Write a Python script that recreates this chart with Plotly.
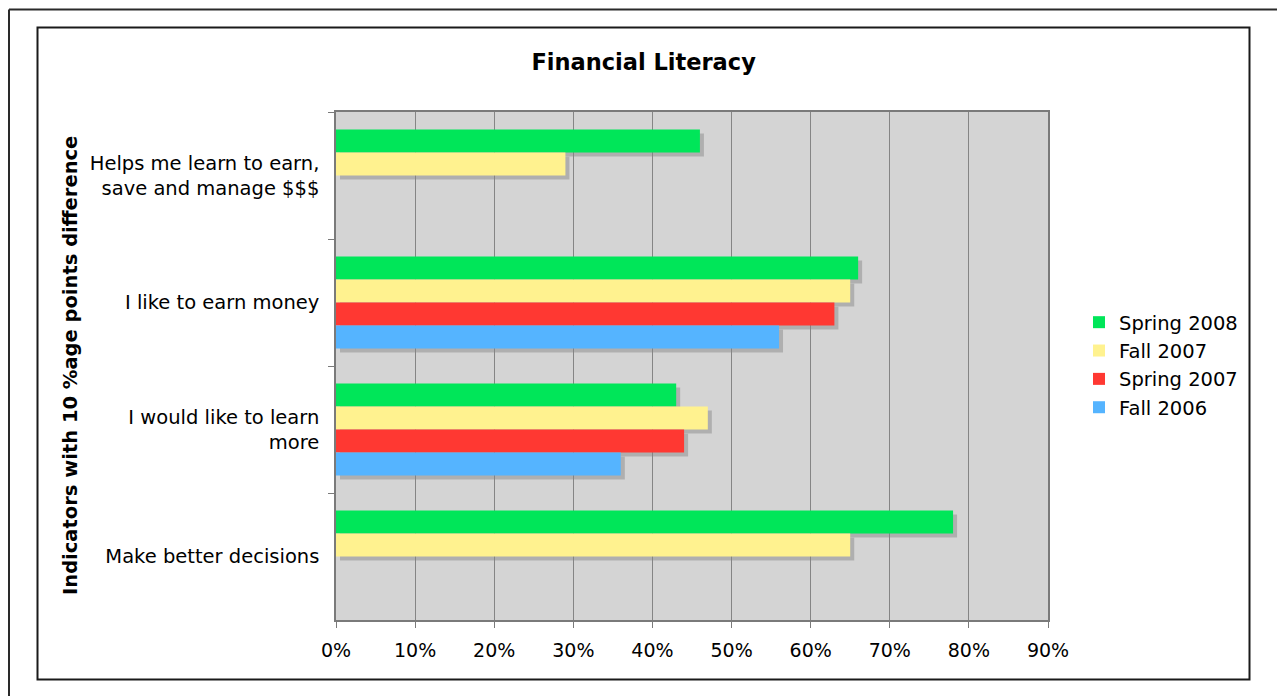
import plotly.graph_objects as go

W, H = 1277, 696

categories = [
    "Helps me learn to earn,<br>save and manage $$$",
    "I like to earn money",
    "I would like to learn<br>more",
    "Make better decisions",
]
series_names = ["Spring 2008", "Fall 2007", "Spring 2007", "Fall 2006"]
spring_2008 = [46, 66, 43, 78]
fall_2007 = [29, 65, 47, 65]
spring_2007 = [None, 63, 44, None]
fall_2006 = [None, 56, 36, None]
x_ticks = [0, 10, 20, 30, 40, 50, 60, 70, 80, 90]
x_tick_labels = ["0%", "10%", "20%", "30%", "40%", "50%", "60%", "70%", "80%", "90%"]

series_values = [spring_2008, fall_2007, spring_2007, fall_2006]
colors = ["#00E659", "#FFF28F", "#FF3832", "#55B4FF"]
shadow_color = "#AFAFAF"

FONT = "DejaVu Sans, Verdana, sans-serif"

# plot area in pixels
px_l, px_r, px_t, px_b = 336, 1048, 112, 620
sh = 4  # shadow offset px

main_x = [px_l / W, px_r / W]
main_y = [1 - px_b / H, 1 - px_t / H]
shad_x = [(px_l + sh) / W, (px_r + sh) / W]
shad_y = [1 - (px_b + sh) / H, 1 - (px_t + sh) / H]

fig = go.Figure()

# shadows on (x, y)
for name, vals in zip(series_names, series_values):
    fig.add_trace(go.Bar(
        y=categories, x=vals, orientation="h", name=name,
        marker=dict(color=shadow_color, line=dict(width=0)),
        showlegend=False, hoverinfo="skip", xaxis="x", yaxis="y",
    ))

# main bars on (x2, y2)
for i, (name, vals, c) in enumerate(zip(series_names, series_values, colors)):
    fig.add_trace(go.Bar(
        y=categories, x=vals, orientation="h", name=name,
        marker=dict(color=c, line=dict(width=0)),
        legendgroup=f"g{i}", xaxis="x2", yaxis="y2",
    ))

yr = [len(categories) - 0.5, -0.5]

fig.update_layout(
    width=W, height=H, autosize=False,
    margin=dict(l=0, r=0, t=0, b=0, autoexpand=False),
    paper_bgcolor="white",
    plot_bgcolor="rgba(0,0,0,0)",
    barmode="group", bargap=0.275, bargroupgap=0,
    font=dict(family=FONT, color="black", size=19),
    title=dict(text="Financial Literacy", x=0.504, xanchor="center",
               y=1 - 62 / H, yanchor="middle",
               font=dict(family=FONT, size=22.5, weight="bold", color="black")),
    xaxis=dict(domain=shad_x, range=[0, 90], visible=False, anchor="y",
               showgrid=False, zeroline=False),
    yaxis=dict(domain=shad_y, range=yr, visible=False, anchor="x",
               type="category", showgrid=False),
    xaxis2=dict(domain=main_x, range=[0, 90], anchor="y2",
                tickmode="array", tickvals=x_ticks, ticktext=x_tick_labels,
                showgrid=True, gridcolor="#858585", gridwidth=1,
                zeroline=False, showline=True, linecolor="#7A7A7A", linewidth=1.5,
                mirror=True, ticks="outside", ticklen=6, tickcolor="#7A7A7A",
                tickfont=dict(family=FONT, size=19, color="black"),
                ticklabelstandoff=6, automargin=False),
    yaxis2=dict(domain=main_y, range=yr, anchor="x2", type="category",
                categoryorder="array", categoryarray=categories,
                showgrid=False, zeroline=False, showline=True,
                linecolor="#7A7A7A", linewidth=1.5, mirror=True,
                ticks="outside", ticklen=6, tickcolor="#7A7A7A",
                tickson="boundaries",
                tickfont=dict(family=FONT, size=19.5, color="black"),
                ticklabelstandoff=11, automargin=False),
    legend=dict(x=1079 / W, xanchor="left", y=1 - 303 / H, yanchor="top",
                font=dict(family=FONT, size=19.5, color="black"),
                bgcolor="rgba(0,0,0,0)", borderwidth=0,
                traceorder="normal", tracegroupgap=4, itemclick=False),
    showlegend=True,
    annotations=[dict(
        text="<b>Indicators with 10 %age points difference</b>",
        x=70 / W, y=1 - 366 / H, xref="paper", yref="paper",
        xanchor="center", yanchor="middle", textangle=-90, showarrow=False,
        font=dict(family=FONT, size=19.5, color="black"),
    )],
    shapes=[
        # plot background
        dict(type="rect", xref="paper", yref="paper", layer="below",
             x0=main_x[0], x1=main_x[1], y0=main_y[0], y1=main_y[1],
             fillcolor="#D4D4D4", line=dict(width=0)),
        # inner frame
        dict(type="rect", xref="paper", yref="paper", layer="above",
             x0=37.5 / W, x1=1249.5 / W, y0=1 - 679.5 / H, y1=1 - 27.5 / H,
             fillcolor="rgba(0,0,0,0)", line=dict(color="#1A1A1A", width=2)),
        # outer frame (page edge)
        dict(type="line", xref="paper", yref="paper", layer="above",
             x0=9 / W, x1=1.0, y0=1 - 9.5 / H, y1=1 - 9.5 / H,
             line=dict(color="#2A2A2A", width=2)),
        dict(type="line", xref="paper", yref="paper", layer="above",
             x0=9 / W, x1=9 / W, y0=0, y1=1 - 9.5 / H,
             line=dict(color="#2A2A2A", width=2)),
    ],
)

fig.write_html(
    "out.html",
    config={"displayModeBar": False, "responsive": False},
    post_script="document.body.style.margin='0';document.body.style.overflow='hidden';",
)
